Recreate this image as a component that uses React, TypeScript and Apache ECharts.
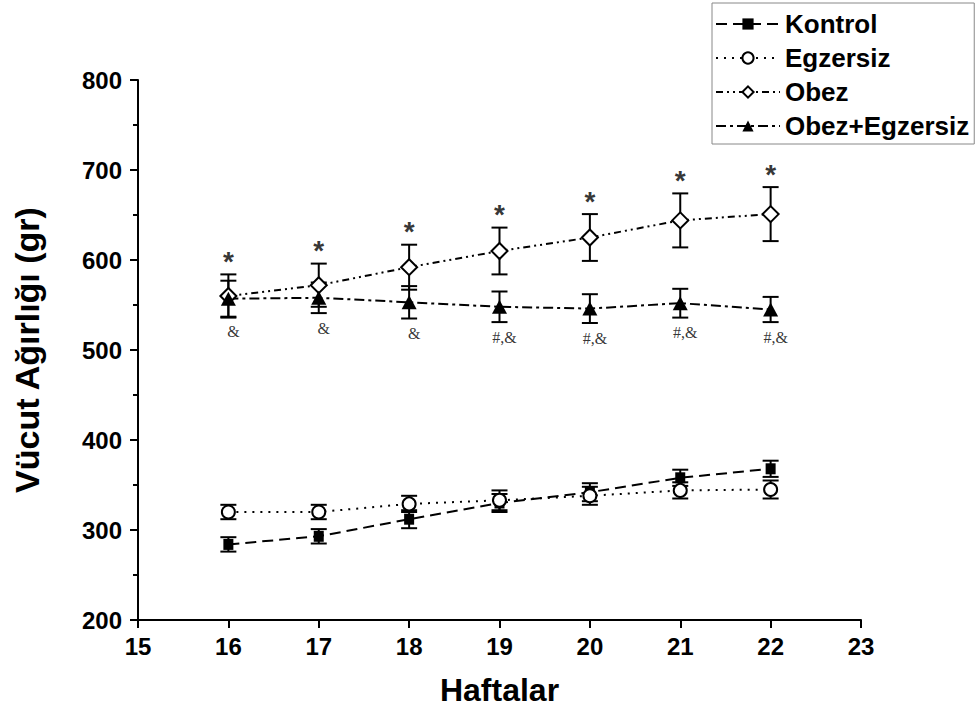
import React, { useEffect, useRef } from "react";
import * as echarts from "echarts";

const weeks = [16, 17, 18, 19, 20, 21, 22];
const kontrol = [284, 293, 312, 330, 342, 358, 368];
const kontrolErr = [8, 8, 10, 10, 10, 9, 9];
const egzersiz = [320, 320, 329, 333, 338, 344, 345];
const egzersizErr = [8, 8, 9, 11, 10, 9, 10];
const obez = [560, 572, 592, 610, 625, 644, 651];
const obezErr = [24, 24, 25, 26, 26, 30, 30];
const obezEgz = [557, 558, 553, 548, 546, 552, 545];
const obezEgzErr = [20, 17, 18, 17, 16, 16, 14];
const obezSig = ["*", "*", "*", "*", "*", "*", "*"];
const obezEgzSig = ["&", "&", "&", "#,&", "#,&", "#,&", "#,&"];

const names = ["Kontrol", "Egzersiz", "Obez", "Obez+Egzersiz"];

const pts = (vals: number[]) => weeks.map((w, i) => [w, vals[i]]);
const errData = (vals: number[], errs: number[]) =>
  weeks.map((w, i) => [w, vals[i] - errs[i], vals[i] + errs[i]]);

const renderErr = (_params: any, api: any) => {
  const x = api.value(0);
  const lo = api.coord([x, api.value(1)]);
  const hi = api.coord([x, api.value(2)]);
  const cw = 8;
  const style = { stroke: "#000", lineWidth: 2 };
  return {
    type: "group",
    children: [
      { type: "line", shape: { x1: lo[0], y1: lo[1], x2: hi[0], y2: hi[1] }, style },
      { type: "line", shape: { x1: lo[0] - cw, y1: lo[1], x2: lo[0] + cw, y2: lo[1] }, style },
      { type: "line", shape: { x1: hi[0] - cw, y1: hi[1], x2: hi[0] + cw, y2: hi[1] }, style },
    ],
  };
};

const errSeries = (vals: number[], errs: number[]) => ({
  type: "custom",
  renderItem: renderErr,
  data: errData(vals, errs),
  encode: { x: 0, y: [1, 2] },
  z: 1,
  silent: true,
});

export default function App() {
  const ref = useRef<HTMLDivElement>(null);
  useEffect(() => {
    if (!ref.current) return;
    const chart = echarts.init(ref.current, null, { renderer: "svg" });
    const font = "Arial, 'Liberation Sans', sans-serif";
    const lineCommon = { color: "#000", width: 2 };
    chart.setOption({
      animation: false,
      backgroundColor: "#fff",
      textStyle: { fontFamily: font },
      grid: { left: 138, right: 119, top: 80, bottom: 98, containLabel: false },
      legend: {
        data: names,
        orient: "vertical",
        left: 712,
        top: 3,
        padding: [8, 5, 5, 3],
        itemGap: 8,
        itemWidth: 64,
        itemHeight: 14,
        borderColor: "#888",
        borderWidth: 1,
        textStyle: {
          fontSize: 26,
          lineHeight: 26,
          fontWeight: "bold",
          color: "#000",
          fontFamily: font,
        },
      },
      xAxis: {
        type: "value",
        min: 15,
        max: 23,
        interval: 1,
        name: "Haftalar",
        nameLocation: "middle",
        nameGap: 54,
        nameTextStyle: { fontSize: 32, fontWeight: "bold", color: "#000" },
        axisLine: { lineStyle: { color: "#000", width: 2 } },
        axisTick: { inside: false, length: 8, lineStyle: { color: "#000", width: 2 } },
        axisLabel: { fontSize: 24, fontWeight: "bold", color: "#000", margin: 14 },
        splitLine: { show: false },
      },
      yAxis: {
        type: "value",
        min: 200,
        max: 800,
        interval: 100,
        name: "Vücut Ağırlığı (gr)",
        nameLocation: "middle",
        nameGap: 94,
        nameTextStyle: { fontSize: 34, fontWeight: "bold", color: "#000" },
        axisLine: { show: true, lineStyle: { color: "#000", width: 2 } },
        axisTick: { show: true, inside: false, length: 8, lineStyle: { color: "#000", width: 2 } },
        minorTick: { show: true, splitNumber: 2, length: 5, lineStyle: { color: "#000", width: 2 } },
        axisLabel: { fontSize: 24, fontWeight: "bold", color: "#000", margin: 16 },
        splitLine: { show: false },
      },
      series: [
        errSeries(kontrol, kontrolErr),
        errSeries(egzersiz, egzersizErr),
        errSeries(obez, obezErr),
        errSeries(obezEgz, obezEgzErr),
        {
          name: "Kontrol",
          type: "line",
          data: pts(kontrol),
          symbol: "rect",
          symbolSize: [10, 11],
          itemStyle: { color: "#000" },
          lineStyle: { ...lineCommon, type: [11, 6] },
          z: 3,
        },
        {
          name: "Egzersiz",
          type: "line",
          data: pts(egzersiz),
          symbol: "emptyCircle",
          symbolSize: 13,
          itemStyle: { color: "#000", borderWidth: 1.2 },
          lineStyle: { ...lineCommon, type: [2, 6] },
          z: 3,
        },
        {
          name: "Obez",
          type: "line",
          data: pts(obez),
          symbol: "emptyDiamond",
          symbolSize: [16, 16],
          itemStyle: { color: "#000", borderWidth: 1.2 },
          lineStyle: { ...lineCommon, type: [7, 4, 2, 4, 2, 4] },
          z: 3,
        },
        {
          name: "Obez+Egzersiz",
          type: "line",
          data: pts(obezEgz),
          symbol: "triangle",
          symbolSize: [15, 14],
          itemStyle: { color: "#000" },
          lineStyle: { ...lineCommon, type: [10, 4, 3, 4] },
          z: 3,
        },
        {
          type: "scatter",
          data: weeks.map((w, i) => [w, obez[i] + obezErr[i]]),
          symbolSize: 0,
          silent: true,
          label: {
            show: true,
            position: "top",
            distance: 0,
            formatter: (p: any) => obezSig[p.dataIndex],
            fontSize: 28,
            lineHeight: 26,
            fontWeight: "bold",
            color: "#000",
            fontFamily: font,
          },
        },
        {
          type: "scatter",
          data: weeks.map((w, i) => [w, obezEgz[i] - obezEgzErr[i]]),
          symbolSize: 0,
          silent: true,
          label: {
            show: true,
            position: "bottom",
            distance: 7,
            offset: [5, 0],
            formatter: (p: any) => obezEgzSig[p.dataIndex],
            fontSize: 16,
            color: "#000",
            fontFamily: "'Liberation Serif', 'Times New Roman', serif",
          },
        },
      ],
    });
    return () => chart.dispose();
  }, []);
  return (
    <div
      ref={ref}
      style={{ position: "fixed", left: 0, top: 0, width: 980, height: 718, background: "#fff" }}
    />
  );
}
